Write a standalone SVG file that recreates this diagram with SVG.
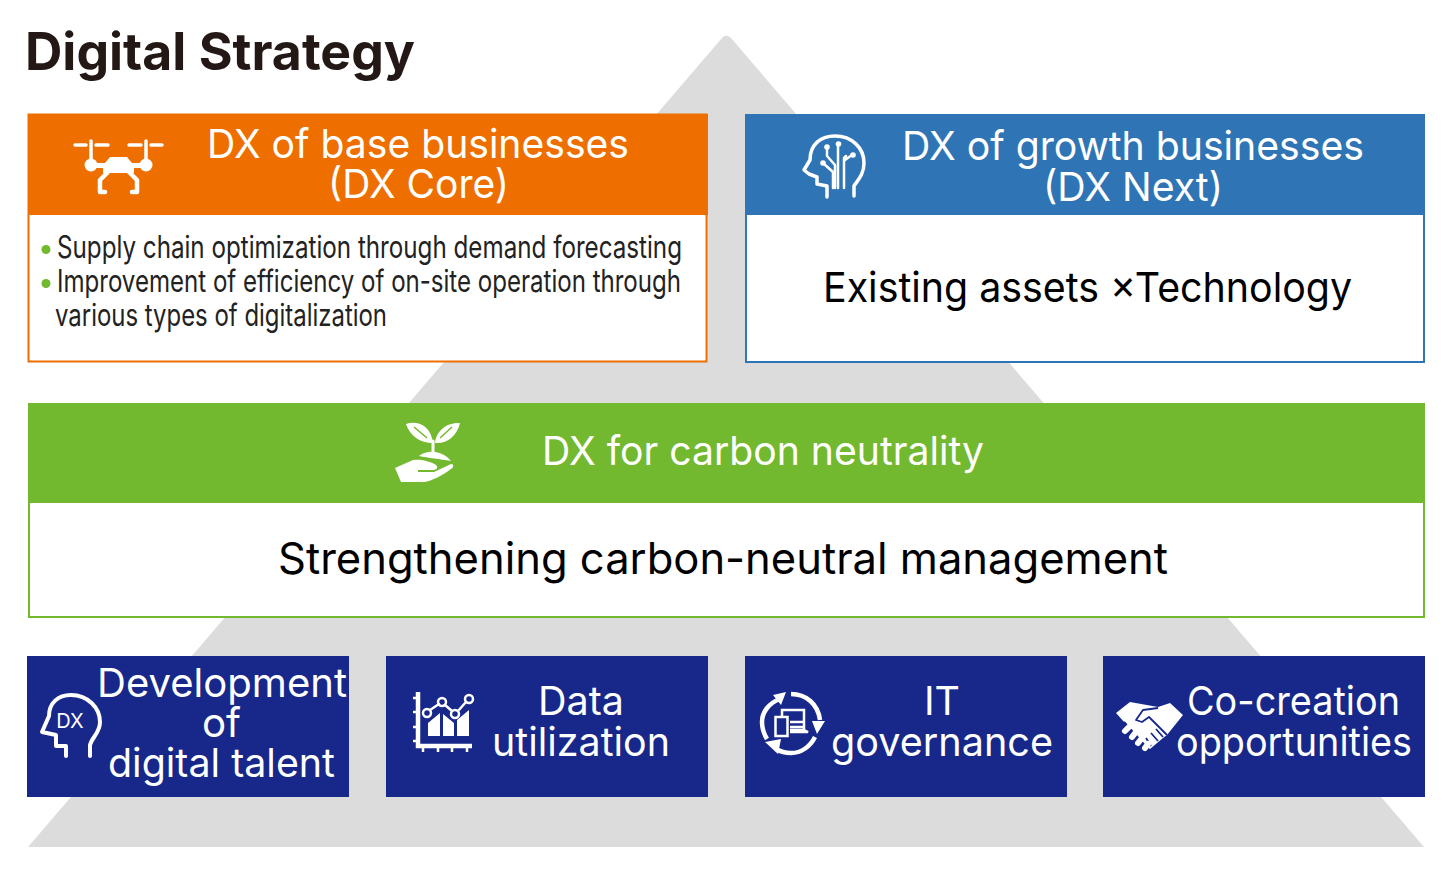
<svg xmlns="http://www.w3.org/2000/svg" width="1450" height="872" viewBox="0 0 1450 872">
<style>
text{font-family:Inter,"Noto Sans","Liberation Sans",sans-serif}
.h{font-size:40px;fill:#fff;text-anchor:start}
.b{font-size:31px;fill:#222}
.k{fill:#000}
.i{fill:#fff;stroke:none}
.l{fill:none;stroke:#fff;stroke-linecap:round;stroke-linejoin:round}
.box{fill:#17288a}
</style>
<rect width="1450" height="872" fill="#fff"/>
<path id="pyramid" d="M28 847 L722 38 Q726 33 731 38 L1424 847 Z" fill="#dcdcdc"/>
<text id="title" x="25" y="70" font-size="52" font-weight="700" fill="#231815" textLength="390" lengthAdjust="spacingAndGlyphs">Digital Strategy</text>

<g id="node-core">
<rect x="28.500" y="114.500" width="678" height="247" fill="#fff" stroke="#ee6f00" stroke-width="2"/>
<rect x="28" y="114" width="680" height="101" fill="#ee6f00"/>
<g class="icon">
<path class="l" stroke-width="3.500" d="M75 145H86M96 145H108M129 145H141M151 145H162M91 141V165M146 141V165"/>
<circle class="i" cx="91" cy="165" r="6.500"/><circle class="i" cx="146" cy="165" r="6.500"/>
<path class="i" d="M96 163H105L110 157H127L132 163H141V168H134V173H103V168H96Z"/>
<path class="l" stroke-width="4.500" d="M108 172L100 180V192H105M129 172L137 180V192H132"/>
</g>
<text class="h" x="207" y="158" textLength="422" lengthAdjust="spacingAndGlyphs">DX of base businesses</text>
<text class="h" x="328" y="198" textLength="181" lengthAdjust="spacingAndGlyphs">(DX Core)</text>
<circle cx="46" cy="249.500" r="4.500" fill="#72b92f"/>
<circle cx="46" cy="283.500" r="4.500" fill="#72b92f"/>
<text class="b" x="57" y="258" textLength="625" lengthAdjust="spacingAndGlyphs">Supply chain optimization through demand forecasting</text>
<text class="b" x="57" y="292" textLength="624" lengthAdjust="spacingAndGlyphs">Improvement of efficiency of on-site operation through</text>
<text class="b" x="55" y="326" textLength="332" lengthAdjust="spacingAndGlyphs">various types of digitalization</text>
</g>

<g id="node-next">
<rect x="746" y="115" width="678" height="247" fill="#fff" stroke="#2f75b5" stroke-width="2"/>
<rect x="745" y="114" width="680" height="101" fill="#2f75b5"/>
<g class="icon">
<path class="l" stroke-width="3.500" d="M827 197V186L817 184V177L809 174L804 170L810 160C810 145 820 136 835 136C852 136 864 148 864 163C864 174 858 180 854 186V196"/>
<path class="l" stroke-width="2.500" d="M838 143V188M827 147V156L835 165V188M846 156L844 158V188M852 155L845 160M823 163L833 172V188"/>
<circle class="i" cx="838.500" cy="144" r="2.800"/><circle class="i" cx="827" cy="147" r="2.800"/><circle class="i" cx="853" cy="155" r="2.800"/><circle class="i" cx="823" cy="163" r="2.800"/>
</g>
<text class="h" x="902" y="160" textLength="462" lengthAdjust="spacingAndGlyphs">DX of growth businesses</text>
<text class="h" x="1043" y="201" textLength="180" lengthAdjust="spacingAndGlyphs">(DX Next)</text>
<text class="k" x="823" y="302" font-size="41" textLength="529" lengthAdjust="spacingAndGlyphs">Existing assets ×Technology</text>
</g>

<g id="node-carbon">
<rect x="29" y="404" width="1395" height="213" fill="#fff" stroke="#72b92f" stroke-width="2"/>
<rect x="28" y="403" width="1397" height="100" fill="#72b92f"/>
<g class="icon">
<path class="i" d="M406 424C418 420 431 426 433 443C420 443 410 436 406 424ZM460 423C457 436 447 444 435 443C436 431 447 422 460 423Z"/>
<path d="M414 427L427 438M452 427L440 438" stroke="#72b92f" stroke-width="1.500" fill="none"/>
<path class="l" stroke-width="3" d="M433 441V452"/>
<path class="i" d="M419 456C425 450 442 449 451 461C440 459 428 458 419 456Z"/>
<path class="i" d="M395 468L413 460C420 459 430 461 436 465C439 468 436 470 432 470H418V472H434L451 464C454 464 454 467 451 469C443 475 432 481 424 482L401 482Z"/>
</g>
<text class="h" x="542" y="465" textLength="442" lengthAdjust="spacingAndGlyphs">DX for carbon neutrality</text>
<text class="k" x="278" y="574" font-size="44" textLength="890" lengthAdjust="spacingAndGlyphs">Strengthening carbon-neutral management</text>
</g>

<g id="node-talent">
<rect class="box" x="27" y="656" width="322" height="141"/>
<path class="l" stroke-width="4" d="M66 756V746H56V735L42 732L49 716C49 703 58 695 71 695C88 695 100 708 100 722C100 733 92 737 90 745V756"/>
<text x="70" y="728" font-size="20" fill="#fff" text-anchor="middle">DX</text>
<text class="h" x="97" y="697" textLength="250" lengthAdjust="spacingAndGlyphs">Development</text>
<text class="h" x="202" y="737" textLength="39" lengthAdjust="spacingAndGlyphs">of</text>
<text class="h" x="108" y="777" textLength="227" lengthAdjust="spacingAndGlyphs">digital talent</text>
</g>

<g id="node-data">
<rect class="box" x="386" y="656" width="322" height="141"/>
<path fill="none" stroke="#fff" stroke-width="4.500" d="M418 692V746H472"/>
<path fill="none" stroke="#fff" stroke-width="2.500" d="M413 698H416M413 712H416M413 727H416M413 741H416M423 748V752M438 748V752M452 748V752M467 748V752"/>
<path class="i" d="M428 723L440 713V736H428ZM443 714L454 723V736H443ZM457 720L469 710V736H457Z"/>
<path class="l" stroke-width="2.500" d="M430 710L439 704M445 705L452 711M458 711L466 702"/>
<g fill="none" stroke="#fff" stroke-width="2.500"><circle cx="427" cy="713" r="4"/><circle cx="442" cy="702" r="4"/><circle cx="455" cy="714" r="4"/><circle cx="469" cy="699" r="4"/></g>
<text class="h" x="538" y="715" textLength="86" lengthAdjust="spacingAndGlyphs">Data</text>
<text class="h" x="492" y="756" textLength="178" lengthAdjust="spacingAndGlyphs">utilization</text>
</g>

<g id="node-it">
<rect class="box" x="745" y="656" width="322" height="141"/>
<g class="icon">
<path fill="none" stroke="#fff" stroke-width="4.500" d="M780 699C769 703 762 712 762 722C762 729 764 734 767 739M791 694C806 694 818 704 820 720M815 737C810 747 801 753 791 753C785 753 781 752 776 749"/>
<path class="i" d="M773 695L786 692L781 705Z M812 721L825 721L817 734Z M765 742L781 739L778 754Z"/>
<path fill="none" stroke="#fff" stroke-width="2.500" d="M782 718V710H804V730H790M790 722H804M790 727H804M804 730L808 732H790"/>
<rect x="775.500" y="717" width="12" height="19" fill="none" stroke="#fff" stroke-width="2.500"/>
</g>
<text class="h" x="924" y="715" textLength="36" lengthAdjust="spacingAndGlyphs">IT</text>
<text class="h" x="831" y="756" textLength="222" lengthAdjust="spacingAndGlyphs">governance</text>
</g>

<g id="node-cocreation">
<rect class="box" x="1103" y="656" width="322" height="141"/>
<g class="icon">
<path class="i" d="M1116 713L1130 702L1158 707L1170 703L1183 715L1167 735L1163 738L1150 749L1146 746L1125 723Z"/>
<path d="M1158 708L1143 710L1136 720L1142 722L1149 717L1167 735M1151 746L1146 738M1158 741L1151 733M1163 737L1156 729" fill="none" stroke="#17288a" stroke-width="1.800" stroke-linejoin="round"/>
<path d="M1124 722L1148 749" stroke="#17288a" stroke-width="2" fill="none"/>
<g class="l" stroke-width="6"><path d="M1125 731L1130 726M1132 737L1136 732M1138 743L1142 738M1145 748L1148 744"/></g>
</g>
<text class="h" x="1187" y="715" textLength="213" lengthAdjust="spacingAndGlyphs">Co-creation</text>
<text class="h" x="1176" y="756" textLength="236" lengthAdjust="spacingAndGlyphs">opportunities</text>
</g>
</svg>
